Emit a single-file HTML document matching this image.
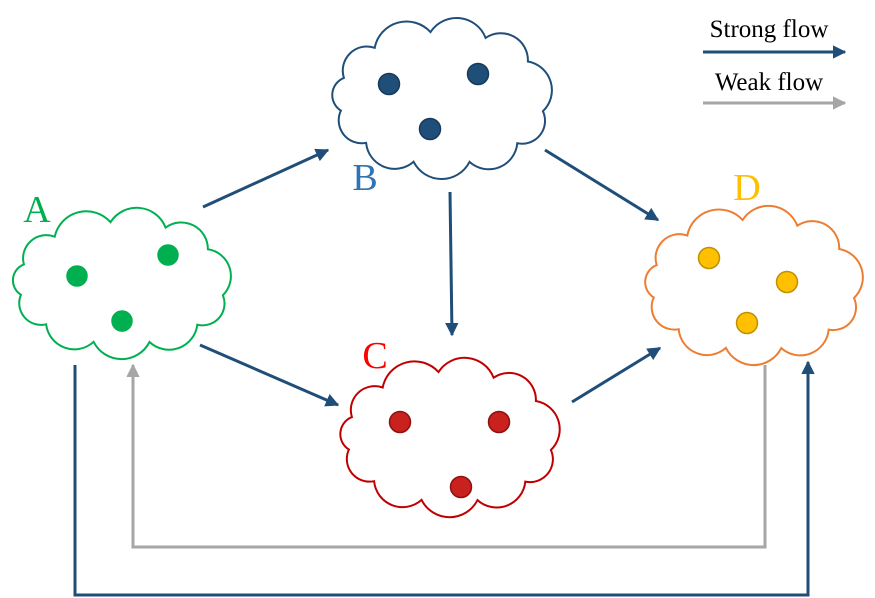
<!DOCTYPE html>
<html><head><meta charset="utf-8"><style>
html,body{margin:0;padding:0;background:#fff;}
svg{display:block;font-family:"Liberation Serif",serif;}
</style></head><body>
<svg id="chart" width="875" height="598" viewBox="0 0 875 598" xmlns="http://www.w3.org/2000/svg">
<defs>
<marker id="ab" viewBox="0 0 10 10" refX="9" refY="5" markerWidth="4.5" markerHeight="4.5" orient="auto"><path d="M0,0 L10,5 L0,10 z" fill="#1F4E79"/></marker>
<marker id="ag" viewBox="0 0 10 10" refX="9" refY="5" markerWidth="4.5" markerHeight="4.5" orient="auto"><path d="M0,0 L10,5 L0,10 z" fill="#A6A6A6"/></marker>
</defs>
<g id="layer"></g>
<text x="769" y="37" font-size="25" text-anchor="middle">Strong flow</text>
<line x1="703" y1="52" x2="845" y2="52" stroke="#1F4E79" stroke-width="3" marker-end="url(#ab)"/>
<text x="769" y="90" font-size="25" text-anchor="middle">Weak flow</text>
<line x1="703" y1="103" x2="845" y2="103" stroke="#A6A6A6" stroke-width="3" marker-end="url(#ag)"/>
</svg>
<script>
const nodeNames = ['A','B','C','D'];
const nodeColors = ['#00B050','#1F4E79','#C00000','#ED7D31'];
const labelColors = ['#00B050','#2E75B6','#FF0000','#FFC000'];
const dotFill = ['#00B050','#1F4E79','#C9211E','#FFC000'];
const dotStroke = ['#00B050','#163A5C','#8E1010','#BF9000'];
const clouds = [[122,283,117,72],[442,98,117,78],[450,437,117,77],[754,285,116,77]];
const labelPos = [[37,222],[365,190],[375,368],[747,200]];
const dots = [[[77,276],[168,255],[122,321]],[[389,84],[478,74],[430,129]],[[400,422],[499,422],[461,487]],[[709,258],[787,282],[747,323]]];
const strongArrows = [[[203,207],[328,150]],[[450,192],[452,335]],[[545,150],[658,220]],[[200,345],[338,405]],[[572,402],[660,348]],[[75,365],[75,595],[808,595],[808,362]]];
const weakArrows = [[[765,365],[765,547],[133,547],[133,365]]];
const NS='http://www.w3.org/2000/svg';
const layer=document.getElementById('layer');
function mk(t,a){const e=document.createElementNS(NS,t);for(const k in a)e.setAttribute(k,a[k]);layer.appendChild(e);return e;}
const angs=[0.2,0.75,1.3,1.85,2.4,2.95,3.45,4.0,4.6,5.15,5.7];
clouds.forEach((c,i)=>{
  const [cx,cy,rx,ry]=c;
  const pts=angs.map(a=>[cx+rx*0.88*Math.cos(a),cy+ry*0.85*Math.sin(a)]);
  let d='M'+pts[0][0].toFixed(1)+','+pts[0][1].toFixed(1);
  for(let k=1;k<=pts.length;k++){const p=pts[k%pts.length],q=pts[k-1];
    const ch=Math.hypot(p[0]-q[0],p[1]-q[1]);const r=ch*0.56;
    d+=` A${r.toFixed(1)},${r.toFixed(1)} 0 0 1 ${p[0].toFixed(1)},${p[1].toFixed(1)}`;}
  const e=mk('path',{d:d+'Z',fill:'#fff',stroke:nodeColors[i],'stroke-width':2});
  
  
  const t=mk('text',{x:labelPos[i][0],y:labelPos[i][1],'font-size':38,'text-anchor':'middle',fill:labelColors[i]});
  t.textContent=nodeNames[i];
  
  
  dots[i].forEach((p,j)=>{
    const s=mk('circle',{cx:p[0],cy:p[1],r:i==0?10:10.5,fill:dotFill[i],stroke:dotStroke[i],'stroke-width':1.5});
    
    
  });
});
function arr(list,col,m,nm){list.forEach((pts,i)=>{
  const e=mk('polyline',{points:pts.map(p=>p.join(',')).join(' '),fill:'none',stroke:col,'stroke-width':3,'marker-end':'url(#'+m+')'});
  
  
});}
arr(strongArrows,'#1F4E79','ab','strong');
arr(weakArrows,'#A6A6A6','ag','weak');
</script>
</body></html>
